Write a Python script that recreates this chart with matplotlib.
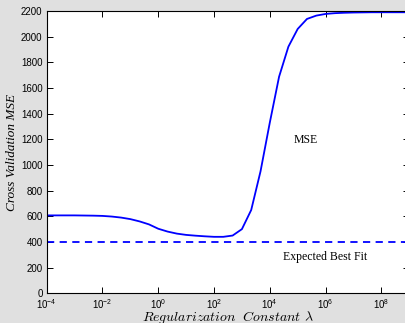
import numpy as np
import matplotlib
matplotlib.use("Agg")
import matplotlib.pyplot as plt

# Data (log10 of lambda sampled every 1/3 decade)
log_lambda = [-4, -3.667, -3.333, -3, -2.667, -2.333, -2, -1.667, -1.333, -1,
              -0.667, -0.333, 0, 0.333, 0.667, 1, 1.333, 1.667, 2, 2.333,
              2.667, 3, 3.333, 3.667, 4, 4.333, 4.667, 5, 5.333, 5.667,
              6, 6.333, 6.667, 7, 7.333, 7.667, 8, 8.333, 8.667, 9]
mse = [607, 607, 607, 607, 606, 605, 603, 598, 590, 578,
       560, 537, 503, 481, 465, 455, 449, 444, 440, 440,
       450, 500, 649, 950, 1330, 1688, 1922, 2060, 2138, 2164,
       2177, 2183, 2186, 2188, 2189, 2190, 2190, 2190, 2190, 2190]
best_fit = 400
xticks = [1e-4, 1e-2, 1e0, 1e2, 1e4, 1e6, 1e8]
yticks = [0, 200, 400, 600, 800, 1000, 1200, 1400, 1600, 1800, 2000, 2200]

plt.rcParams['mathtext.fontset'] = 'custom'
plt.rcParams['mathtext.rm'] = 'Liberation Sans'
plt.rcParams['mathtext.it'] = 'Liberation Sans:italic'
plt.rcParams['font.family'] = ['Liberation Sans', 'DejaVu Sans']

fig = plt.figure(figsize=(4.06, 3.23), dpi=100)
fig.patch.set_facecolor('#e0e0e0')
ax = fig.add_axes([0.115, 0.092, 0.893, 0.874])
ax.set_facecolor('white')

lam = 10.0 ** np.array(log_lambda)
ax.plot(lam, mse, color='#0000ff', lw=1.3)
ax.axhline(best_fit, color='#0000ff', lw=1.3, ls=(0, (4, 3)))

ax.set_xscale('log')
ax.set_xlim(1e-4, 1e9)
ax.set_ylim(0, 2200)
ax.set_xticks(xticks)
ax.set_yticks(yticks)
ax.minorticks_off()
ax.tick_params(direction='in', length=4, width=0.7, top=True, right=True,
               labelsize=7, pad=3)
for s in ax.spines.values():
    s.set_linewidth(0.8)

ax.text(10**5.29, 1195, 'MSE', family='Liberation Serif', fontsize=8.5,
        ha='center', va='center')
ax.text(10**6.0, 283, 'Expected Best Fit', family='Liberation Serif', fontsize=8.5,
        ha='center', va='center')

xl = ax.set_xlabel(r'$Regularization\ \ Constant\ \lambda$', fontsize=10, labelpad=-1.5)
xl.set_math_fontfamily('cm')
ax.set_ylabel('Cross Validation MSE', family='Liberation Serif', style='italic',
              fontsize=9.5, labelpad=2)

fig.savefig('out.png', dpi=100, facecolor=fig.get_facecolor())
